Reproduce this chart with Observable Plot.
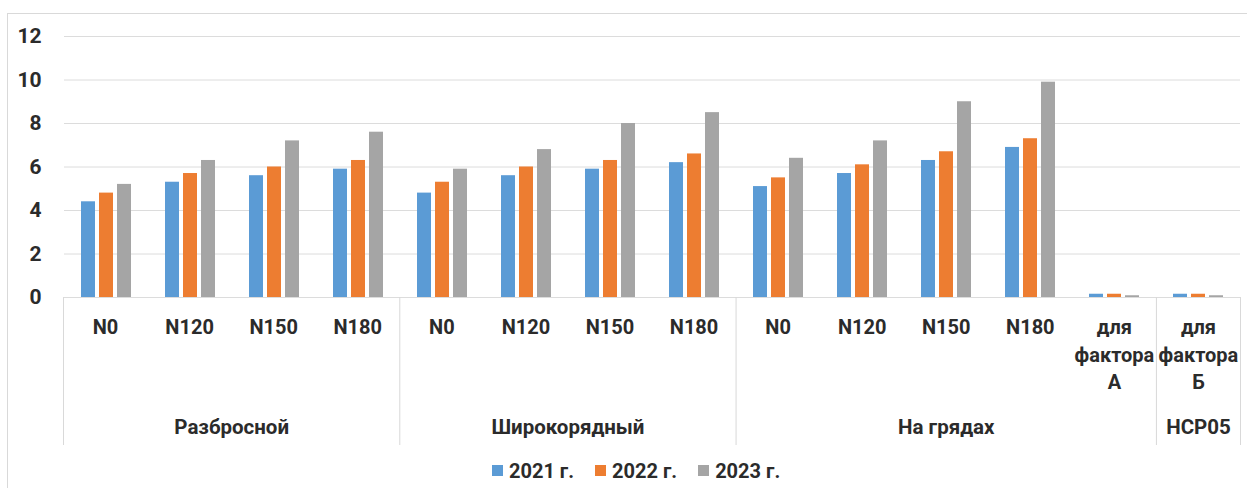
<!DOCTYPE html>
<html>
<head>
<meta charset="utf-8">
<script src="https://cdn.jsdelivr.net/npm/d3@7"></script>
<script src="https://cdn.jsdelivr.net/npm/@observablehq/plot@0.6"></script>
<style>
  html, body { margin: 0; padding: 0; background: #fff; }
  #wrap { position: relative; width: 1247px; height: 488px; overflow: hidden; font-family: Roboto, "Noto Sans", sans-serif; }
  #border { position: absolute; left: 7px; top: 13px; width: 1300px; height: 600px; border: 1px solid #d9d9d9; box-sizing: border-box; }
  #topChart, #bottomChart, #legend { position: absolute; left: 0; }
  #topChart { top: 0; }
  #bottomChart { top: 297px; }
  #legend { left: 492px; top: 454px; }
  #legend div { font-family: Roboto, "Noto Sans", sans-serif !important; font-size: 20px !important; font-weight: 700 !important; color: #2b2b2b !important; margin: 0 !important; }
  #legend span { margin-right: 21px !important; }
  #legend svg { margin-right: 6px !important; }
</style>
</head>
<body>
<div id="wrap">
  <div id="border"></div>
  <div id="topChart"></div>
  <div id="bottomChart"></div>
  <div id="legend"></div>
</div>
<script>
// ---- data ----
const categories = ["N0", "N120", "N150", "N180", "N0", "N120", "N150", "N180", "N0", "N120", "N150", "N180", "для\nфактора\nА", "для\nфактора\nБ"];
const groupNames = ["Разбросной", "Широкорядный", "На грядах", "НСР05"];
const groupSizes = [4, 4, 5, 1];
const years = ["2021 г.", "2022 г.", "2023 г."];
const v2021 = [4.4, 5.3, 5.6, 5.9, 4.8, 5.6, 5.9, 6.2, 5.1, 5.7, 6.3, 6.9, 0.15, 0.15];
const v2022 = [4.8, 5.7, 6.0, 6.3, 5.3, 6.0, 6.3, 6.6, 5.5, 6.1, 6.7, 7.3, 0.15, 0.15];
const v2023 = [5.2, 6.3, 7.2, 7.6, 5.9, 6.8, 8.0, 8.5, 6.4, 7.2, 9.0, 9.9, 0.08, 0.08];
const colors = ["#5B9BD5", "#ED7D31", "#A5A5A5"];
const yTicks = [0, 2, 4, 6, 8, 10, 12];

// ---- derived tables ----
const series = [v2021, v2022, v2023];
const catIds = categories.map((c, i) => i);
const rows = catIds.flatMap(i => years.map((y, j) => ({cat: i, year: y, value: series[j][i]})));
let acc = 0;
const groups = groupNames.map((name, k) => { const g = {name, start: acc, n: groupSizes[k]}; acc += groupSizes[k]; return g; });
const boundaries = [0, ...groups.map(g => g.start + g.n)];

const W = 1247, ML = 63, MR = 7;
const ink = "#2b2b2b";
const textStyle = {background: "transparent", fontFamily: "Roboto, 'Noto Sans', sans-serif", fontSize: "20px", fontWeight: "700", color: ink, overflow: "visible"};

// ---- bars ----
const barChart = Plot.plot({
  width: W, height: 298,
  marginLeft: ML, marginRight: MR, marginTop: 36, marginBottom: 1,
  style: textStyle,
  fx: {domain: catIds, padding: 0, axis: null, label: null},
  x: {domain: years, paddingInner: 0.21, paddingOuter: 0.818, axis: null},
  y: {domain: [0, 12], axis: null},
  color: {domain: years, range: colors},
  marks: [
    Plot.gridY(yTicks, {stroke: "#dcdcdc", strokeOpacity: 1}),
    Plot.axisY(yTicks, {tickSize: 0, tickPadding: 23, label: null, fill: ink, fontSize: 21}),
    Plot.barY(rows, {fx: "cat", x: "year", y: "value", fill: "year"})
  ]
});
document.getElementById("topChart").appendChild(barChart);

// ---- multi-level category axis ----
const axisChart = Plot.plot({
  width: W, height: 148,
  marginLeft: ML, marginRight: MR, marginTop: 0, marginBottom: 0,
  style: textStyle,
  x: {domain: [0, categories.length], axis: null},
  marks: [
    Plot.ruleX(boundaries, {stroke: "#d9d9d9"}),
    Plot.text(categories, {x: (d, i) => i + 0.5, text: d => d, frameAnchor: "top", lineAnchor: "top", dy: 17, lineHeight: 1.38, fill: ink}),
    Plot.text(groups, {x: d => d.start + d.n / 2, text: "name", frameAnchor: "top", lineAnchor: "middle", textAnchor: "middle", dy: 130, fill: ink, fontSize: 20.5})
  ]
});
document.getElementById("bottomChart").appendChild(axisChart);

// ---- legend ----
const legendEl = Plot.legend({
  color: {type: "ordinal", domain: years, range: colors},
  legend: "swatches",
  swatchSize: 11,
  className: "lg"
});
document.getElementById("legend").appendChild(legendEl);
</script>
</body>
</html>
